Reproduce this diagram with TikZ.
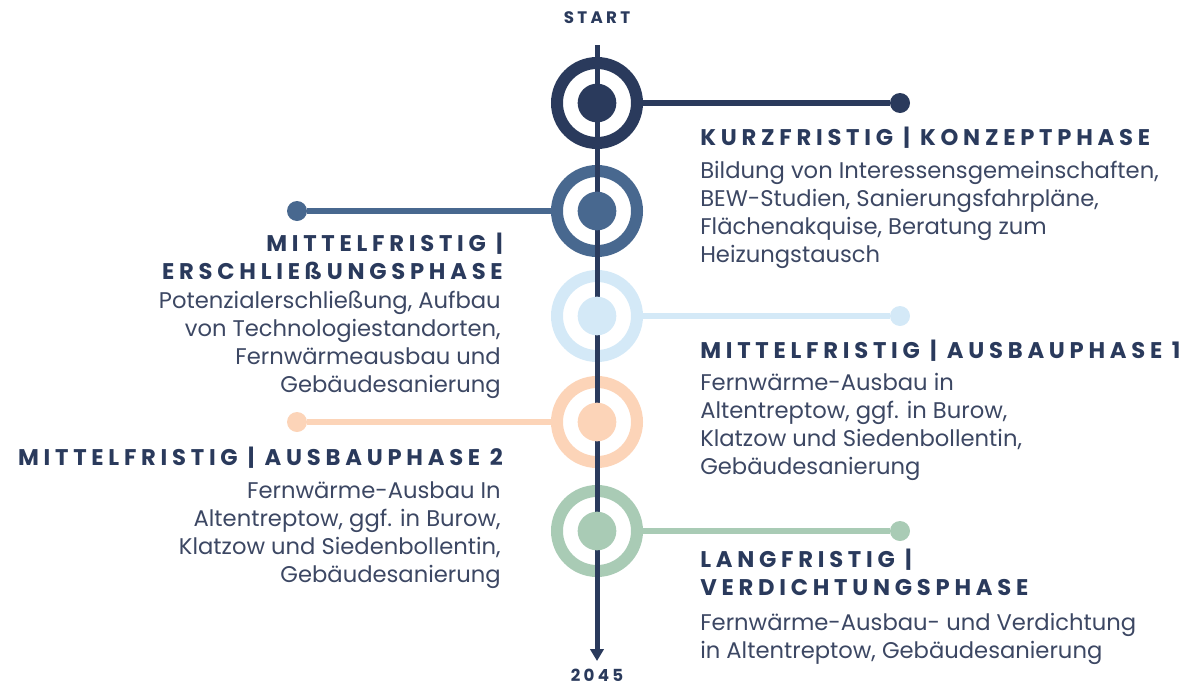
\documentclass[tikz,border=0pt]{standalone}
\usepackage{fontspec}
\setmainfont{Poppins}
\usetikzlibrary{arrows.meta, positioning}
\definecolor{navy}{HTML}{2A3A5C}
\definecolor{steel}{HTML}{48688F}
\definecolor{sky}{HTML}{D4E9F7}
\definecolor{peach}{HTML}{FCD4B8}
\definecolor{sage}{HTML}{A9CBB5}
\definecolor{txt}{HTML}{3C4763}
\newcommand{\sep}{\hspace{0.45em}|\hspace{0.45em}}

\begin{document}
\begin{tikzpicture}[x=0.75pt, y=-0.75pt,
                    ring/.style={draw, circle, line width=9pt, minimum size=60pt, inner sep=0pt},
                    dot/.style={circle, inner sep=0pt, minimum size=29pt},
                    tip/.style={circle, inner sep=0pt, minimum size=15pt},
                    link/.style={line width=5pt},
                    head/.style={inner sep=0pt, text=navy,
                                 font=\fontsize{17}{20.5}\selectfont\bfseries\addfontfeatures{LetterSpace=21}},
                    label/.style={inner sep=0pt, text=navy,
                                  font=\fontsize{12.5}{14}\selectfont\bfseries\addfontfeatures{LetterSpace=20}},
                    body/.style={inner sep=0pt, text=txt, font=\fontsize{17}{21}\selectfont}]
                \useasboundingbox (0,0) rectangle (1197,686);
                \foreach \i/\y/\c/\x in {1/103/navy/900, 2/211/steel/297, 3/316/sky/900,
                                         4/422/peach/297, 5/531/sage/900}{
                        \node[ring, draw=\c] (ring\i) at (597,\y) {};
                        \node[tip, fill=\c] (end\i) at (\x,\y) {};
                        \draw[link, \c] (ring\i) -- (end\i);
                    }
                % time axis
                \node[label] (start) at (597,18) {START};
                \node[label] (finish) at (597,675) {2045};
                \coordinate (top) at (597,45);
                \coordinate (bottom) at (597,661);
                \draw[navy, line width=3.75pt, -{Triangle[width=10pt, length=9pt]}] (top) -- (bottom);
                \foreach \i/\c in {1/navy, 2/steel, 3/sky, 4/peach, 5/sage}
                        \node[dot, fill=\c] (dot\i) at (ring\i) {};
                % right side
                \node[head, anchor=north west] (h1) at (700,127) {KURZFRISTIG\sep KONZEPTPHASE};
                \node[body, anchor=north west, align=left] (b1) at (700,161)
                {Bildung von Interessensgemeinschaften,\\BEW-Studien, Sanierungsfahrpläne,\\
                 Flächenakquise, Beratung zum\\Heizungstausch};
                \node[head, anchor=north west] (h3) at (700,340) {MITTELFRISTIG\sep AUSBAUPHASE 1};
                \node[body, anchor=north west, align=left] (b3) at (700,373)
                {Fernwärme-Ausbau in\\Altentreptow, ggf. in Burow,\\Klatzow und Siedenbollentin,\\
                 Gebäudesanierung};
                \node[head, anchor=north west, align=left] (h5) at (700,549)
                {LANGFRISTIG\sep\\VERDICHTUNGSPHASE};
                \node[body, anchor=north west, align=left] (b5) at (700,613)
                {Fernwärme-Ausbau- und Verdichtung\\in Altentreptow, Gebäudesanierung};
                % left side
                \node[head, anchor=north east, align=right] (h2) at (503,233)
                {MITTELFRISTIG\sep\\ERSCHLIEßUNGSPHASE};
                \node[body, anchor=north east, align=right] (b2) at (501,291)
                {Potenzialerschließung, Aufbau\\von Technologiestandorten,\\Fernwärmeausbau und\\
                 Gebäudesanierung};
                \node[head, anchor=north east] (h4) at (503,447) {MITTELFRISTIG\sep AUSBAUPHASE 2};
                \node[body, anchor=north east, align=right] (b4) at (501,481)
                {Fernwärme-Ausbau In\\Altentreptow, ggf. in Burow,\\Klatzow und Siedenbollentin,\\
                 Gebäudesanierung};
            \end{tikzpicture}
\end{document}
